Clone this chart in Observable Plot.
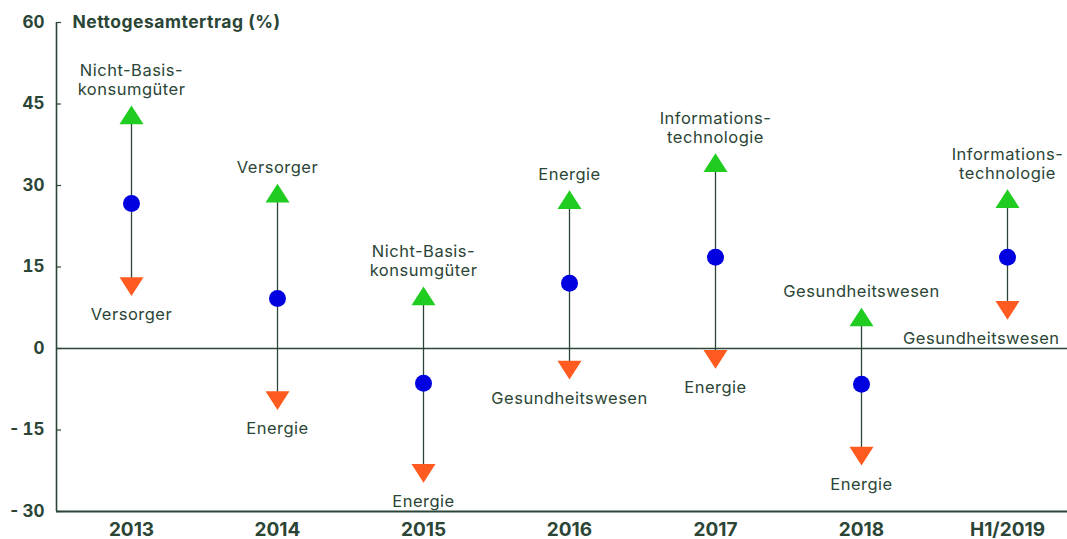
<!DOCTYPE html>
<html>
<head>
<meta charset="utf-8">
<script src="https://cdn.jsdelivr.net/npm/d3@7"></script>
<script src="https://cdn.jsdelivr.net/npm/@observablehq/plot@0.6"></script>
<style>
  html, body { margin: 0; padding: 0; background: #fff; }
  #chart { width: 1067px; height: 539px; }
  g[aria-label="text"] text { letter-spacing: 0.5px; }
</style>
</head>
<body>
<div id="chart"></div>
<script>
const categories = ["2013", "2014", "2015", "2016", "2017", "2018", "H1/2019"];
const highValues = [43.0, 28.6, 9.7, 27.4, 34.2, 5.8, 27.6];
const avgValues = [26.7, 9.2, -6.4, 12.0, 16.8, -6.6, 16.8];
const lowValues = [11.4, -9.6, -23.0, -4.0, -2.0, -19.8, 7.0];
const highLabels = ["Nicht-Basis-\nkonsumgüter", "Versorger", "Nicht-Basis-\nkonsumgüter", "Energie", "Informations-\ntechnologie", "Gesundheitswesen", "Informations-\ntechnologie"];
const lowLabels = ["Versorger", "Energie", "Energie", "Gesundheitswesen", "Energie", "Energie", "Gesundheitswesen"];
const yTicks = [-30, -15, 0, 15, 30, 45, 60];
const title = "Nettogesamtertrag (%)";

const data = categories.map((c, i) => ({
  cat: c, high: highValues[i], avg: avgValues[i], low: lowValues[i],
  highLabel: highLabels[i], lowLabel: lowLabels[i]
}));

const ink = "#2b4536";
const font = "Inter, 'Noto Sans', sans-serif";

const triUp = {
  draw(ctx, size) {
    const r = Math.sqrt(size / Math.PI);
    const h = r * 0.78;
    ctx.moveTo(0, -h); ctx.lineTo(r, h); ctx.lineTo(-r, h); ctx.closePath();
  }
};
const triDown = {
  draw(ctx, size) {
    const r = Math.sqrt(size / Math.PI);
    const h = r * 0.78;
    ctx.moveTo(0, h); ctx.lineTo(r, -h); ctx.lineTo(-r, -h); ctx.closePath();
  }
};

const lastIdx = categories.length - 1;

const plot = Plot.plot({
  width: 1067,
  height: 539,
  marginLeft: 56,
  marginRight: 0,
  marginTop: 22,
  marginBottom: 28,
  style: { fontFamily: font, color: ink, background: "#fff", overflow: "visible" },
  x: { type: "point", domain: categories, padding: 0, insetLeft: 73, insetRight: 59, axis: null },
  y: { domain: [-30, 60], axis: null },
  marks: [
    Plot.ruleY([0], { stroke: ink, strokeWidth: 1.3 }),
    Plot.ruleY([-30], { stroke: ink, strokeWidth: 1.8 }),
    Plot.ruleX([56], { x: { value: d => d, scale: null }, y1: -30, y2: 60, stroke: ink, strokeWidth: 1.6 }),
    Plot.axisY({ ticks: yTicks, tickSize: 5, dx: 5, text: null, stroke: ink, strokeWidth: 1.2 }),
    Plot.axisY({ ticks: yTicks, tickSize: 0, tickPadding: 12, fontSize: 17, fontWeight: 700, fill: ink,
      tickFormat: d => d < 0 ? "-\u2009" + Math.abs(d) : String(d) }),
    Plot.axisX({ tickSize: 0, tickPadding: 11, fontSize: 19, fontWeight: 700, fill: ink, label: null }),
    Plot.ruleX(data, { x: "cat", y1: "low", y2: "high", stroke: ink, strokeWidth: 1.3 }),
    Plot.dot(data, { x: "cat", y: "high", symbol: triUp, r: 12, fill: "#1fcc1f", stroke: null }),
    Plot.dot(data, { x: "cat", y: "low", symbol: triDown, r: 12, fill: "#ff5a1f", stroke: null }),
    Plot.dot(data, { x: "cat", y: "avg", r: 8.5, fill: "#0000e0", stroke: null }),
    Plot.text(data, { x: "cat", y: "high", text: "highLabel", lineAnchor: "bottom", dy: -20, fontSize: 16.5, fill: ink, lineHeight: 1.15 }),
    Plot.text(data.filter((d, i) => i !== lastIdx), { x: "cat", y: "low", text: "lowLabel", lineAnchor: "top", dy: 22, fontSize: 16.5, fill: ink }),
    Plot.text(data.filter((d, i) => i === lastIdx), { x: "cat", y: "low", text: "lowLabel", lineAnchor: "top", dy: 22, dx: 52, textAnchor: "end", fontSize: 16.5, fill: ink }),
    Plot.text([title], { frameAnchor: "top-left", text: d => d, dx: 16, dy: 0, lineAnchor: "middle", textAnchor: "start", fontSize: 17.5, fontWeight: 700, fill: ink })
  ]
});
document.getElementById("chart").appendChild(plot);
</script>
</body>
</html>
